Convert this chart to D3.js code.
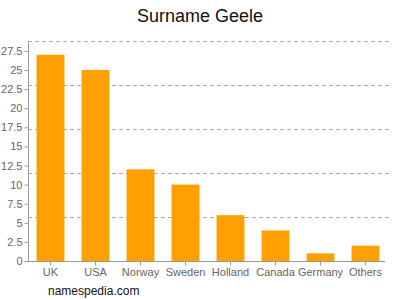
<!DOCTYPE html>
<html><head><meta charset="utf-8">
<script src="https://cdn.jsdelivr.net/npm/d3@7"></script>
<style>body{margin:0;background:#fff}svg{display:block}</style>
</head><body>
<script>
const categories = ["UK","USA","Norway","Sweden","Holland","Canada","Germany","Others"];
const values = [27,25,12,10,6,4,1,2];
const tickValues = [0,2.5,5,7.5,10,12.5,15,17.5,20,22.5,25,27.5];
const tickLabels = ["0","2.5","5","7.5","10","12.5","15","17.5","20","22.5","25","27.5"];
const yMax = 28.8;

(function(){
const W=400,H=300, mLeft=28, mRight=388, mTop=41, mBottom=261;
const svg=d3.select("body").append("svg").attr("width",W).attr("height",H);
const x=d3.scaleBand().domain(categories).range([mLeft,mRight]).paddingInner(0.38).paddingOuter(0.19);
const y=d3.scaleLinear().domain([0,yMax]).range([mBottom,mTop]);

const grid=d3.range(1,6).map(i=>yMax*i/5);
svg.append("g").selectAll("line").data(grid).join("line")
  .attr("x1",mLeft).attr("x2",mRight+1).attr("y1",d=>Math.round(y(d))+0.5).attr("y2",d=>Math.round(y(d))+0.5)
  .attr("stroke","#aaa").attr("stroke-dasharray","4,3");

svg.append("g").selectAll("rect").data(values).join("rect")
  .attr("x",(d,i)=>x(categories[i])).attr("width",x.bandwidth())
  .attr("y",d=>y(d)).attr("height",d=>mBottom-y(d)).attr("fill","#ffa000");

const yAxis=d3.axisLeft(y).tickValues(tickValues).tickFormat((d,i)=>tickLabels[i]).tickSize(4).tickPadding(2);
const gy=svg.append("g").attr("transform",`translate(${mLeft+0.5},0)`).call(yAxis);
gy.select(".domain").attr("stroke","#999").attr("d",`M0,${mTop}V${mBottom}`);
gy.selectAll(".tick line").attr("stroke","#999");
gy.selectAll("text").attr("fill","#666").style("font-family","Liberation Sans, Arial, sans-serif").style("font-size","11px");

const xAxis=d3.axisBottom(x).tickSize(4).tickSizeOuter(0).tickPadding(3);
const gx=svg.append("g").attr("transform",`translate(0,${mBottom+0.5})`).call(xAxis);
gx.select(".domain").attr("stroke","#999").attr("d",`M${mLeft},0H${mRight-3}`);
gx.selectAll(".tick line").attr("stroke","#999");
gx.selectAll("text").attr("fill","#666").style("font-family","Liberation Sans, Arial, sans-serif").style("font-size","11px");

svg.append("text").attr("x",200).attr("y",22).attr("text-anchor","middle")
  .style("font-family","Liberation Sans, Arial, sans-serif").style("font-size","18px").attr("fill","#111").text("Surname Geele");
svg.append("text").attr("x",48).attr("y",295)
  .style("font-family","Liberation Sans, Arial, sans-serif").style("font-size","12px").attr("fill","#111").text("namespedia.com");
})();
</script>
</body></html>
